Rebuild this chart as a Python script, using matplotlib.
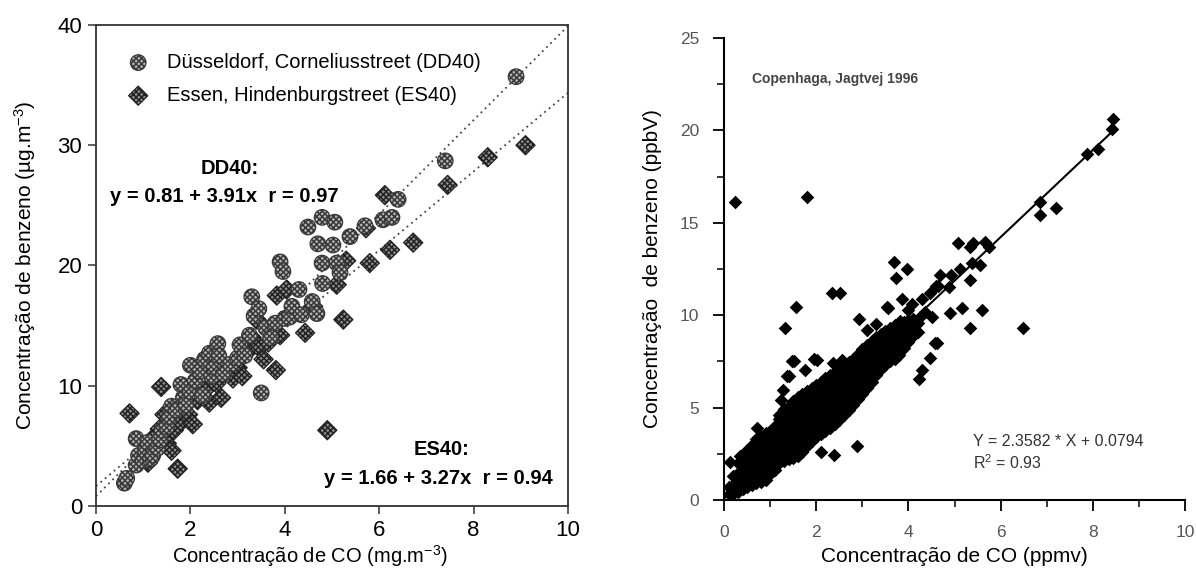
import matplotlib
matplotlib.use("Agg")
import matplotlib.pyplot as plt
from matplotlib.ticker import MultipleLocator

plt.rcParams['font.family'] = ['Liberation Sans', 'DejaVu Sans']
plt.rcParams['mathtext.default'] = 'regular'
plt.rcParams['hatch.linewidth'] = 1.1

# ---------------- Left panel data ----------------
dd40_x = [0.6, 0.65, 0.85, 0.9, 0.85, 1.0, 1.05, 1.1, 1.15, 1.2, 1.3, 1.35, 1.4, 1.5, 1.55,
          1.6, 1.7, 1.8, 1.85, 1.9, 2.0, 2.0, 2.1, 2.2, 2.25, 2.3, 2.4, 2.45, 2.5, 2.58,
          2.6, 2.7, 2.85, 3.0, 3.05, 3.15, 3.25, 3.3, 3.35, 3.45, 3.5, 3.6, 3.7, 3.8, 3.9,
          3.96, 4.0, 4.1, 4.15, 4.3, 4.35, 4.49, 4.58, 4.68, 4.7, 4.79, 4.79, 4.8, 5.02, 5.06,
          5.1, 5.17, 5.38, 5.7, 6.08, 6.27, 6.4, 7.4, 8.9]
dd40_y = [1.9, 2.3, 3.4, 4.2, 5.6, 3.8, 4.6, 5.3, 3.9, 4.2, 4.8, 5.5, 6.3, 6.6, 7.4,
          8.3, 8.0, 10.1, 9.0, 8.4, 9.5, 11.7, 10.4, 11.2, 9.2, 12.2, 12.7, 10.8, 11.5, 13.5,
          12.5, 11.0, 11.8, 12.3, 13.4, 12.5, 14.2, 17.4, 15.8, 16.4, 9.4, 14.8, 14.0, 15.2, 20.3,
          19.5, 15.6, 15.7, 16.6, 18.0, 15.9, 23.2, 17.0, 16.0, 21.8, 24.0, 20.2, 18.5, 21.7, 23.6,
          20.2, 19.4, 22.4, 23.3, 23.8, 24.0, 25.5, 28.7, 35.7]

es40_x = [0.71, 1.0, 1.1, 1.2, 1.25, 1.35, 1.38, 1.45, 1.5, 1.6, 1.65, 1.73, 1.8, 1.95, 2.05,
          2.15, 2.3, 2.4, 2.55, 2.65, 2.8, 2.9, 3.0, 3.1, 3.2, 3.3, 3.4, 3.45, 3.55, 3.65,
          3.81, 3.83, 3.9, 4.04, 4.2, 4.43, 4.6, 4.9, 5.1, 5.24, 5.3, 5.72, 5.8, 6.12, 6.23,
          6.72, 7.45, 8.3, 9.1]
es40_y = [7.7, 4.5, 3.6, 4.9, 5.8, 6.4, 9.9, 7.6, 5.2, 4.6, 6.3, 3.1, 7.0, 7.6, 6.8,
          8.8, 9.6, 8.6, 10.2, 9.0, 11.2, 10.6, 11.5, 10.8, 12.8, 14.0, 15.5, 13.2, 12.2, 13.6,
          11.3, 17.5, 14.2, 18.0, 16.2, 14.4, 16.6, 6.3, 18.4, 15.5, 20.4, 23.1, 20.2, 25.85, 21.3,
          21.9, 26.7, 29.0, 30.0]

dd40_fit = (0.81, 3.91)   # intercept, slope
es40_fit = (1.66, 3.27)
fit_x_range = [0, 10]

left_xticks = [0, 2, 4, 6, 8, 10]
left_yticks = [0, 10, 20, 30, 40]

# ---------------- Right panel data ----------------
cloud_cols = [0.1, 0.2, 0.3, 0.4, 0.5, 0.6, 0.7, 0.8, 0.9, 1.0, 1.1, 1.2, 1.3, 1.4, 1.5,
              1.6, 1.7, 1.8, 1.9, 2.0, 2.1, 2.2, 2.3, 2.4, 2.5, 2.6, 2.7, 2.8, 2.9, 3.0,
              3.1, 3.2, 3.3, 3.4, 3.5, 3.6, 3.7, 3.8, 3.9, 4.0, 4.1, 4.2]
cloud_rows = [
    [0.3, 0.7],
    [0.35, 0.8, 1.3],
    [0.45, 0.95, 1.45, 2.0],
    [0.6, 1.05, 1.55, 2.0, 2.4],
    [0.7, 1.2, 1.7, 2.2, 2.7],
    [0.8, 1.3, 1.8, 2.3, 2.75, 3.0],
    [0.9, 1.4, 1.9, 2.4, 2.9, 3.3],
    [1.0, 1.5, 2.0, 2.5, 3.0, 3.45],
    [1.1, 1.6, 2.1, 2.6, 3.1, 3.6],
    [1.4, 1.85, 2.3, 2.8, 3.3, 3.75],
    [1.65, 2.1, 2.6, 3.1, 3.6, 4.0],
    [2.0, 2.45, 2.95, 3.45, 3.95, 4.4, 4.6],
    [2.1, 2.6, 3.1, 3.6, 4.1, 4.55, 4.9],
    [2.2, 2.7, 3.2, 3.7, 4.2, 4.7, 5.1],
    [2.3, 2.8, 3.3, 3.8, 4.3, 4.8, 5.35],
    [2.4, 2.9, 3.4, 3.9, 4.4, 4.9, 5.4, 5.55],
    [2.6, 3.1, 3.6, 4.1, 4.6, 5.1, 5.5, 5.75],
    [2.9, 3.35, 3.85, 4.35, 4.85, 5.35, 5.9],
    [3.2, 3.7, 4.2, 4.7, 5.2, 5.65, 6.05],
    [3.4, 3.9, 4.4, 4.9, 5.4, 5.85, 6.25],
    [3.55, 4.05, 4.55, 5.05, 5.55, 6.0, 6.4],
    [3.75, 4.25, 4.75, 5.25, 5.75, 6.2, 6.6],
    [3.9, 4.4, 4.9, 5.4, 5.9, 6.35, 6.75],
    [4.1, 4.6, 5.1, 5.6, 6.1, 6.55, 6.9],
    [4.35, 4.85, 5.35, 5.85, 6.35, 6.8, 7.05],
    [4.6, 5.1, 5.6, 6.1, 6.6, 7.0, 7.25],
    [4.85, 5.35, 5.85, 6.35, 6.85, 7.2, 7.45],
    [5.15, 5.65, 6.15, 6.65, 7.15, 7.65],
    [5.45, 5.95, 6.45, 6.95, 7.45, 7.9],
    [5.75, 6.25, 6.75, 7.25, 7.7, 8.15],
    [6.05, 6.55, 7.05, 7.55, 8.0, 8.4],
    [6.4, 6.9, 7.4, 7.9, 8.3, 8.6],
    [6.75, 7.25, 7.75, 8.25, 8.8],
    [7.1, 7.6, 8.1, 8.55, 9.0],
    [7.3, 7.8, 8.3, 8.75, 9.15],
    [7.5, 8.0, 8.5, 8.95, 9.3],
    [7.65, 8.15, 8.65, 9.1, 9.45],
    [7.85, 8.35, 8.85, 9.3, 9.55],
    [8.2, 8.7, 9.2, 9.65],
    [8.55, 9.05, 9.5, 9.75],
    [8.85, 9.3, 9.8],
    [9.1, 9.6],
]

sparse_x = [0.24, 1.8, 3.69, 0.13, 0.35, 0.71, 1.23, 1.27, 1.37, 1.4, 1.48, 1.51, 1.76, 1.94,
            2.01, 2.37, 2.55, 1.32, 1.55, 2.34, 2.52, 2.92, 3.53, 2.1, 2.39, 2.88,
            4.6, 4.58, 4.47, 4.29, 4.22, 3.96, 3.73, 4.68, 4.93, 5.12, 5.37, 5.55, 5.34,
            4.47, 4.65, 4.87, 4.29, 3.85, 4.07, 3.56, 4.9, 5.15, 5.59, 6.49, 5.33, 4.61,
            4.25, 3.82, 5.07, 5.41, 5.66, 5.74, 5.34, 6.85, 6.85, 7.2, 7.87, 8.11, 8.42, 8.44,
            4.35, 4.5, 4.0, 3.3, 3.1]
sparse_y = [16.1, 16.4, 12.9, 2.07, 2.4, 3.88, 5.4, 5.95, 6.71, 6.7, 7.54, 7.5, 7.04, 7.62,
            7.58, 7.4, 7.6, 9.3, 10.46, 11.18, 11.18, 9.78, 10.46, 2.6, 2.45, 2.9,
            11.6, 8.5, 7.7, 7.04, 6.54, 12.5, 12.0, 12.2, 12.2, 12.5, 12.8, 12.7, 11.9,
            11.2, 11.6, 11.5, 10.85, 10.85, 10.6, 10.4, 10.1, 10.4, 10.3, 9.33, 9.3, 8.5,
            9.9, 9.7, 13.9, 13.9, 13.95, 13.7, 13.7, 16.1, 15.4, 15.8, 18.7, 19.0, 20.1, 20.6,
            10.2, 9.9, 10.3, 9.5, 9.2]

cph_fit = (0.0794, 2.3582)
cph_fit_x = [0, 8.42]

right_xticks = [0, 2, 4, 6, 8, 10]
right_yticks = [0, 5, 10, 15, 20, 25]

# ---------------- Figure ----------------
fig = plt.figure(figsize=(11.96, 5.74), dpi=100)
axL = fig.add_axes([0.0803, 0.1185, 0.3946, 0.8380])
axR = fig.add_axes([0.6054, 0.1289, 0.3855, 0.8049])

# ----- Left -----
for (b0, b1) in (dd40_fit, es40_fit):
    axL.plot(fit_x_range, [b0 + b1 * x for x in fit_x_range], linestyle=(0, (1, 2.2)),
             color='#444444', lw=1.3, zorder=1)

axL.scatter(dd40_x, dd40_y, s=125, marker='o', facecolor='#b4b4b4', edgecolor='#383838',
            hatch='xxxxxx', linewidths=0.9, zorder=3,
            label='Düsseldorf, Corneliusstreet (DD40)')
axL.scatter(es40_x, es40_y, s=95, marker='D', facecolor='#8e8e8e', edgecolor='#222222',
            hatch='xxxxxx', linewidths=0.9, zorder=2,
            label='Essen, Hindenburgstreet (ES40)')

axL.set_xlim(0, 10)
axL.set_ylim(0, 40)
axL.set_xticks(left_xticks)
axL.set_yticks(left_yticks)
axL.tick_params(direction='out', length=6, width=1.1, labelsize=16, color='#333333', pad=4)
for sp in axL.spines.values():
    sp.set_color('#333333')
    sp.set_linewidth(1.3)
axL.set_xlabel('Concentração de CO (mg.m$^{-3}$)', fontsize=14.5, labelpad=4)
axL.xaxis.set_label_coords(0.453, -0.078)
axL.set_ylabel('Concentração de benzeno (µg.m$^{-3}$)', fontsize=15, labelpad=14)

axL.legend(loc='upper left', bbox_to_anchor=(0.068, 0.942), frameon=False, borderaxespad=0,
           borderpad=0, handletextpad=0.95, labelspacing=0.7, handlelength=1.0,
           fontsize=14.5)

axL.text(2.84, 28.1, 'DD40:', fontsize=14.5, fontweight='bold', ha='center', va='center')
axL.text(0.3, 25.7, 'y = 0.81 + 3.91x  r = 0.97', fontsize=14.5, fontweight='bold',
         ha='left', va='center')
axL.text(7.33, 4.67, 'ES40:', fontsize=14.5, fontweight='bold', ha='center', va='center')
axL.text(9.68, 2.26, 'y = 1.66 + 3.27x  r = 0.94', fontsize=14.5, fontweight='bold',
         ha='right', va='center')

# ----- Right -----
cx, cy = [], []
for xv, ys in zip(cloud_cols, cloud_rows):
    for yv in ys:
        cx.append(xv)
        cy.append(yv)
axR.scatter(cx, cy, s=48, marker='D', color='black', linewidths=0, zorder=2)
axR.scatter(sparse_x, sparse_y, s=48, marker='D', color='black', linewidths=0, zorder=2)
axR.plot(cph_fit_x, [cph_fit[0] + cph_fit[1] * x for x in cph_fit_x], color='black', lw=1.5,
         zorder=3)

axR.set_xlim(0, 10)
axR.set_ylim(0, 25)
axR.set_xticks(right_xticks)
axR.set_yticks(right_yticks)
axR.xaxis.set_minor_locator(MultipleLocator(1))
axR.yaxis.set_minor_locator(MultipleLocator(2.5))
axR.spines['top'].set_visible(False)
axR.spines['right'].set_visible(False)
for s in ('left', 'bottom'):
    axR.spines[s].set_linewidth(1.5)
axR.tick_params(which='major', direction='out', length=8, width=1.3, labelsize=12.5,
                labelcolor='#555555', pad=10)
axR.tick_params(which='minor', direction='out', length=5, width=1.1)
axR.set_xlabel('Concentração de CO (ppmv)', fontsize=15, labelpad=5)
axR.set_ylabel('Concentração  de benzeno (ppbV)', fontsize=15, labelpad=13)

axR.text(0.6, 22.8, 'Copenhaga, Jagtvej 1996', fontsize=10, fontweight='bold',
         color='#444444', ha='left', va='center')
axR.text(5.4, 3.14, 'Y = 2.3582 * X + 0.0794', fontsize=11.5, color='#333333',
         ha='left', va='center')
axR.text(5.4, 2.0, 'R$^2$ = 0.93', fontsize=11.5, color='#333333', ha='left', va='center')

fig.savefig('out.png', dpi=100)
